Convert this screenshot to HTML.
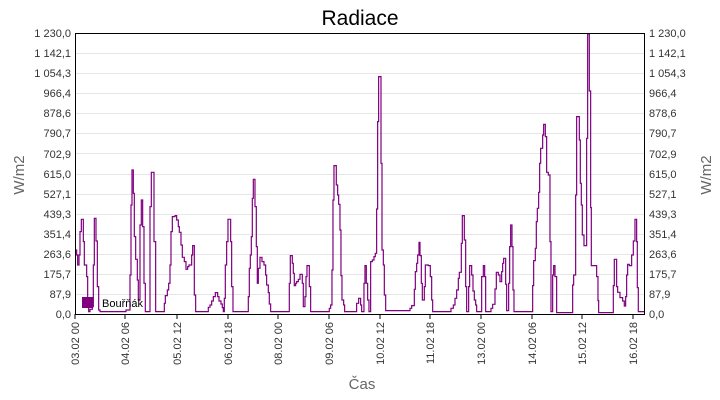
<!DOCTYPE html>
<html><head><meta charset="utf-8"><style>
html,body{margin:0;padding:0;background:#fff;}
svg{display:block;font-family:"Liberation Sans",sans-serif;}
</style></head><body>
<svg width="720" height="400" viewBox="0 0 720 400" xmlns="http://www.w3.org/2000/svg">
<rect width="720" height="400" fill="#fff"/>
<text x="360" y="25" font-size="21" text-anchor="middle" fill="#000">Radiace</text>
<g id="grid" stroke="#e8e8e8" stroke-width="1">
</g>
<script>
</script>
<g stroke="#e6e6e6" stroke-width="1">
<line x1="75" x2="644" y1="53.5" y2="53.5"/><line x1="75" x2="644" y1="73.5" y2="73.5"/><line x1="75" x2="644" y1="93.5" y2="93.5"/><line x1="75" x2="644" y1="113.5" y2="113.5"/><line x1="75" x2="644" y1="133.5" y2="133.5"/><line x1="75" x2="644" y1="153.5" y2="153.5"/><line x1="75" x2="644" y1="174.5" y2="174.5"/><line x1="75" x2="644" y1="194.5" y2="194.5"/><line x1="75" x2="644" y1="214.5" y2="214.5"/><line x1="75" x2="644" y1="234.5" y2="234.5"/><line x1="75" x2="644" y1="254.5" y2="254.5"/><line x1="75" x2="644" y1="274.5" y2="274.5"/><line x1="75" x2="644" y1="294.5" y2="294.5"/>
</g>
<g font-size="11" fill="#333" text-anchor="end">
<text x="71" y="37">1 230,0</text><text x="71" y="57">1 142,1</text><text x="71" y="77">1 054,3</text><text x="71" y="97">966,4</text><text x="71" y="117">878,6</text><text x="71" y="137">790,7</text><text x="71" y="158">702,9</text><text x="71" y="178">615,0</text><text x="71" y="198">527,1</text><text x="71" y="218">439,3</text><text x="71" y="238">351,4</text><text x="71" y="258">263,6</text><text x="71" y="278">175,7</text><text x="71" y="298">87,9</text><text x="71" y="318">0,0</text>
</g>
<g font-size="11" fill="#333" text-anchor="start">
<text x="649" y="37">1 230,0</text><text x="649" y="57">1 142,1</text><text x="649" y="77">1 054,3</text><text x="649" y="97">966,4</text><text x="649" y="117">878,6</text><text x="649" y="137">790,7</text><text x="649" y="158">702,9</text><text x="649" y="178">615,0</text><text x="649" y="198">527,1</text><text x="649" y="218">439,3</text><text x="649" y="238">351,4</text><text x="649" y="258">263,6</text><text x="649" y="278">175,7</text><text x="649" y="298">87,9</text><text x="649" y="318">0,0</text>
</g>
<text transform="translate(24,175) rotate(-90)" font-size="15" fill="#666" text-anchor="middle">W/m2</text>
<text transform="translate(711,175) rotate(-90)" font-size="15" fill="#666" text-anchor="middle">W/m2</text>
<g font-size="11" fill="#333" text-anchor="end">
<text transform="translate(79,322) rotate(-90)">03.02 00</text>
<text transform="translate(129,322) rotate(-90)">04.02 06</text>
<text transform="translate(181,322) rotate(-90)">05.02 12</text>
<text transform="translate(232,322) rotate(-90)">06.02 18</text>
<text transform="translate(282,322) rotate(-90)">08.02 00</text>
<text transform="translate(333,322) rotate(-90)">09.02 06</text>
<text transform="translate(384,322) rotate(-90)">10.02 12</text>
<text transform="translate(434,322) rotate(-90)">11.02 18</text>
<text transform="translate(485,322) rotate(-90)">13.02 00</text>
<text transform="translate(536,322) rotate(-90)">14.02 06</text>
<text transform="translate(586,322) rotate(-90)">15.02 12</text>
<text transform="translate(637,322) rotate(-90)">16.02 18</text>
</g>
<g stroke="#000" stroke-width="1">
<line x1="75" x2="75" y1="314" y2="319"/><line x1="125" x2="125" y1="314" y2="319"/><line x1="177" x2="177" y1="314" y2="319"/><line x1="228" x2="228" y1="314" y2="319"/><line x1="278" x2="278" y1="314" y2="319"/><line x1="329" x2="329" y1="314" y2="319"/><line x1="380" x2="380" y1="314" y2="319"/><line x1="430" x2="430" y1="314" y2="319"/><line x1="481" x2="481" y1="314" y2="319"/><line x1="532" x2="532" y1="314" y2="319"/><line x1="582" x2="582" y1="314" y2="319"/><line x1="633" x2="633" y1="314" y2="319"/>
</g>
<text x="362" y="389" font-size="15" fill="#666" text-anchor="middle">Čas</text>
<g fill="none" stroke="#800080" stroke-width="1.2">
<g transform="translate(60,20) scale(0.3333)"><polyline vector-effect="non-scaling-stroke" points="47,690 50,690 50,705 53,705 53,735 57,735 57,705 60,705 60,635 64,635 64,598 70,598 70,665 73,665 73,735 80,735 80,770 83,770 83,860 86,860 86,875 90,875 90,868 97,868 97,860 100,860 100,735 103,735 103,595 108,595 108,663 112,663 112,800 116,800 116,870 120,870 120,875 198,875 198,870 210,870 210,765 213,765 213,555 216,555 216,450 220,450 220,520 223,520 223,650 227,650 227,718 232,718 232,780 235,780 235,840 240,840 240,615 244,615 244,540 248,540 248,620 252,620 252,790 256,790 256,875 270,875 270,560 274,560 274,457 282,457 282,665 287,665 287,875 313,875 313,850 316,850 316,827 322,827 322,810 326,810 326,790 330,790 330,735 333,735 333,635 337,635 337,590 345,590 345,587 350,587 350,600 355,600 355,620 358,620 358,637 363,637 363,675 367,675 367,712 373,712 373,725 378,725 378,748 383,748 383,740 387,740 387,735 395,735 395,705 398,705 398,677 403,677 403,825 407,825 407,875 445,875 445,862 450,862 450,855 455,855 455,843 460,843 460,830 466,830 466,818 473,818 473,830 477,830 477,843 483,843 483,852 487,852 487,863 490,863 490,875 493,875 493,835 496,835 496,735 500,735 500,665 504,665 504,598 512,598 512,665 515,665 515,800 519,800 519,875 565,875 565,830 568,830 568,745 571,745 571,705 574,705 574,650 577,650 577,535 580,535 580,478 585,478 585,560 589,560 589,680 592,680 592,790 595,790 595,745 600,745 600,712 606,712 606,725 612,725 612,735 617,735 617,765 620,765 620,795 625,795 625,818 628,818 628,852 632,852 632,875 688,875 688,790 691,790 691,707 697,707 697,730 700,730 700,760 703,760 703,797 707,797 707,790 710,790 710,785 715,785 715,778 720,778 720,763 727,763 727,790 730,790 730,860 735,860 735,830 738,830 738,770 741,770 741,737 748,737 748,800 752,800 752,875 808,875 808,865 812,865 812,855 816,855 816,750 819,750 819,540 822,540 822,437 829,437 829,495 833,495 833,525 836,525 836,553 840,553 840,630 843,630 843,767 846,767 846,840 851,840 851,855 854,855 854,875 890,875 890,850 896,850 896,835 902,835 902,855 905,855 905,875 912,875 912,790 915,790 915,737 919,737 919,790 923,790 923,840 927,840 927,875 932,875 932,725 937,725 937,720 942,720 942,710 946,710 946,700 950,700 950,567 953,567 953,305 956,305 956,170 960,170"/></g>
<g transform="translate(380,20) scale(0.3333)"><polyline vector-effect="non-scaling-stroke" points="0,170 3,170 3,430 6,430 6,690 10,690 10,735 13,735 13,825 17,825 17,872 90,872 90,865 95,865 95,857 103,857 103,808 106,808 106,755 110,755 110,730 113,730 113,705 117,705 117,667 120,667 120,707 124,707 124,790 127,790 127,840 133,840 133,800 136,800 136,735 145,735 145,737 151,737 151,770 155,770 155,840 158,840 158,875 213,875 213,865 220,865 220,855 225,855 225,835 230,835 230,810 235,810 235,775 238,775 238,757 244,757 244,670 247,670 247,587 253,587 253,660 257,660 257,800 260,800 260,875 266,875 266,800 269,800 269,737 275,737 275,765 279,765 279,813 283,813 283,840 287,840 287,855 290,855 290,875 305,875 305,770 310,770 310,737 314,737 314,770 317,770 317,875 333,875 333,865 338,865 338,853 345,853 345,807 349,807 349,757 355,757 355,765 360,765 360,785 365,785 365,755 368,755 368,730 371,730 371,715 377,715 377,793 380,793 380,872 386,872 386,790 389,790 389,680 392,680 392,615 396,615 396,680 399,680 399,810 402,810 402,875 458,875 458,797 461,797 461,722 466,722 466,685 469,685 469,605 472,605 472,565 476,565 476,517 479,517 479,430 482,430 482,385 488,385 488,345 491,345 491,313 496,313 496,350 500,350 500,457 505,457 505,465 510,465 510,665 513,665 513,875 518,875 518,765 521,765 521,737 525,737 525,770 530,770 530,878 578,878 578,795 581,795 581,765 587,765 587,525 590,525 590,290 598,290 598,360 601,360 601,490 604,490 604,555 607,555 607,645 612,645 612,677 620,677 620,355 623,355 623,42 628,42 628,213 632,213 632,563 634,563 634,737 650,737 650,770 654,770 654,842 656,842 656,878 700,878 700,797 703,797 703,718 710,718 710,800 713,800 713,817 720,817 720,833 728,833 728,843 733,843 733,858 737,858 737,830 740,830 740,765 743,765 743,733 748,733 748,737 755,737 755,705 760,705 760,663 765,663 765,598 770,598 770,665 772,665 772,803 775,803 775,875 793,875"/></g>
</g>
<rect x="75.5" y="33.5" width="569" height="281" fill="none" stroke="#000" stroke-width="1"/>
<rect x="82" y="297" width="11" height="11" fill="#800080"/>
<text x="102" y="307" font-size="11" fill="#000">Bouřňák</text>
</svg>
</body></html>
